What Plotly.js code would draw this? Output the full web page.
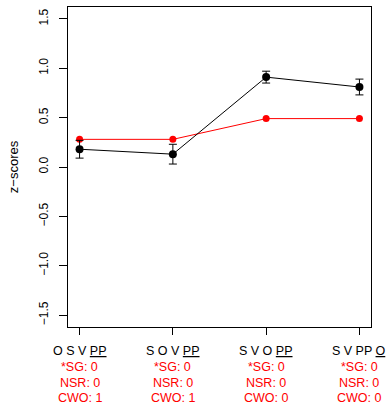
<!DOCTYPE html>
<html><head><meta charset="utf-8">
<script src="https://cdn.plot.ly/plotly-3.0.1.min.js"></script>
<style>html,body{margin:0;padding:0;background:#fff}#plot{width:389px;height:406px}</style>
</head><body><div id="plot"></div>
<script>
const xpos = [1, 2, 3, 4];
const orderLabels = ['O S V <u>PP</u>', 'S O V <u>PP</u>', 'S V O <u>PP</u>', 'S V PP <u>O</u>'];
const sgLabels = ['*SG: 0', '*SG: 0', '*SG: 0', '*SG: 0'];
const nsrLabels = ['NSR: 0', 'NSR: 0', 'NSR: 0', 'NSR: 0'];
const cwoLabels = ['CWO: 1', 'CWO: 1', 'CWO: 0', 'CWO: 0'];
const observed = [0.18, 0.13, 0.91, 0.81];
const observedErr = [0.09, 0.10, 0.06, 0.08];
const predicted = [0.28, 0.28, 0.49, 0.49];
const yTicks = [-1.5, -1.0, -0.5, 0.0, 0.5, 1.0, 1.5];

const font = 'Liberation Sans, Arial, Helvetica, sans-serif';

const traces = [
  {x: xpos, y: predicted, mode: 'lines+markers', type: 'scatter',
   line: {color: '#ff0000', width: 1}, marker: {color: '#ff0000', size: 7}, cliponaxis: false},
  {x: xpos, y: observed, mode: 'lines+markers', type: 'scatter',
   line: {color: '#000000', width: 1}, marker: {color: '#000000', size: 8},
   error_y: {type: 'data', array: observedErr, visible: true, color: '#000000', thickness: 1, width: 4},
   cliponaxis: false}
];

const annotations = [];
const rows = [
  {labels: orderLabels, color: '#000000', shift: -24},
  {labels: sgLabels, color: '#ff0000', shift: -40},
  {labels: nsrLabels, color: '#ff0000', shift: -55.5},
  {labels: cwoLabels, color: '#ff0000', shift: -71}
];
rows.forEach(r => {
  r.labels.forEach((t, i) => {
    annotations.push({x: xpos[i], xref: 'x', y: 0, yref: 'paper', yshift: r.shift,
      text: t, showarrow: false, xanchor: 'center', yanchor: 'middle', borderpad: 0,
      font: {family: font, size: 12.5, color: r.color}});
  });
});

const layout = {
  width: 389, height: 406,
  margin: {l: 68, r: 18, t: 7, b: 79, pad: 0},
  paper_bgcolor: '#ffffff', plot_bgcolor: '#ffffff',
  showlegend: false,
  font: {family: font, size: 12, color: '#000000'},
  xaxis: {range: [0.876, 4.124], showgrid: false, zeroline: false,
    tickvals: xpos, showticklabels: false, ticks: 'outside', ticklen: 7, tickwidth: 1, tickcolor: '#000',
    showline: true, linecolor: '#000', linewidth: 1, mirror: true},
  yaxis: {range: [-1.62, 1.62], showgrid: false, zeroline: false,
    tickvals: yTicks, ticktext: yTicks.map(v => (v < 0 ? '\u2212' : '') + Math.abs(v).toFixed(1)), tickangle: -90,
    ticks: 'outside', ticklen: 8, tickwidth: 1, tickcolor: '#000',
    ticklabelstandoff: 6,
    tickfont: {family: font, size: 12, color: '#000'},
    showline: true, linecolor: '#000', linewidth: 1, mirror: true,
    title: {text: 'z\u2212scores', font: {family: font, size: 13, color: '#000'}, standoff: 15}},
  annotations: annotations
};

Plotly.newPlot('plot', traces, layout, {staticPlot: true, displayModeBar: false});
</script>
</body></html>
